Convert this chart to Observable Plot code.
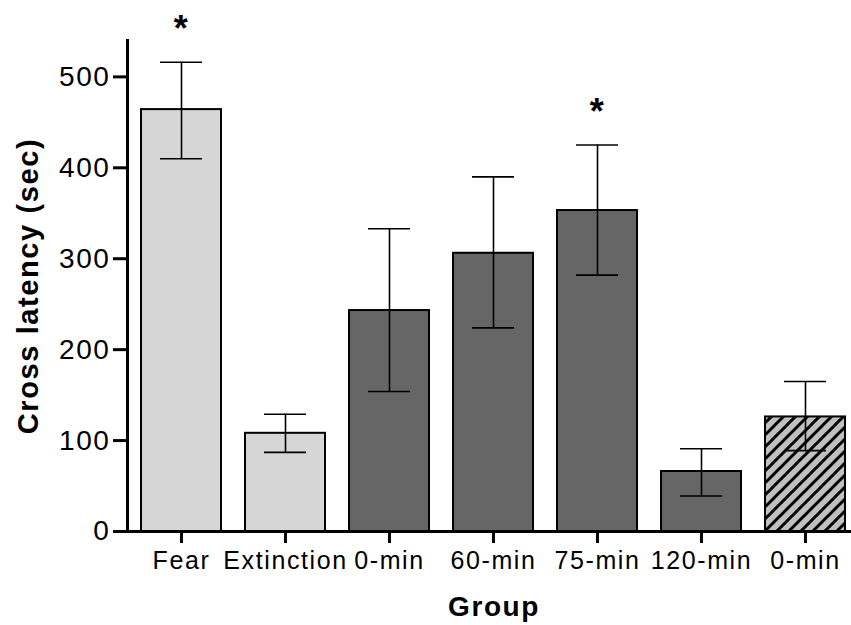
<!DOCTYPE html>
<html><head><meta charset="utf-8">
<script src="https://cdn.jsdelivr.net/npm/d3@7"></script>
<script src="https://cdn.jsdelivr.net/npm/@observablehq/plot@0.6"></script>
<style>
html,body{margin:0;padding:0;background:#fff;overflow:hidden}
#chart svg{display:block}
#chart svg text{letter-spacing:1.6px}
</style></head><body><div id="chart"></div>
<script>
// Data
const groupIds = ["Fear", "Extinction", "0-min", "60-min", "75-min", "120-min", "0-min (b)"];
const groupLabels = ["Fear", "Extinction", "0-min", "60-min", "75-min", "120-min", "0-min"];
const means = [464, 108, 243, 306, 353, 66, 126];
const errLow = [410, 87, 154, 224, 282, 39, 89];
const errHigh = [516, 129, 333, 390, 425, 91, 165];
const fillKind = ["light", "light", "dark", "dark", "dark", "dark", "hatched"];
const starGroups = ["Fear", "75-min"];
const yTicks = [0, 100, 200, 300, 400, 500];

const fillColors = {light: "#d6d6d6", dark: "#666666", hatched: "url(#hatch)"};
const labelOf = Object.fromEntries(groupIds.map((id, i) => [id, groupLabels[i]]));
const data = groupIds.map((id, i) => ({id, mean: means[i], lo: errLow[i], hi: errHigh[i], fill: fillColors[fillKind[i]]}));
const stars = data.filter(d => starGroups.includes(d.id));

const chart = Plot.plot({
  width: 851, height: 625,
  marginTop: 40, marginBottom: 94, marginLeft: 127, marginRight: -9,
  style: {fontFamily: "'Liberation Sans', Arial, sans-serif", fontSize: "24px", color: "#000", background: "#fff", overflow: "visible"},
  x: {domain: groupIds, paddingInner: 0.23, paddingOuter: 0.115, label: null},
  y: {domain: [0, 540], label: null},
  color: {type: "identity"},
  marks: [
    Plot.barY(data, {x: "id", y: "mean", fill: "fill", stroke: "#000", strokeWidth: 2}),
    Plot.ruleX(data, {x: "id", y1: "lo", y2: "hi", stroke: "#000", strokeWidth: 1.6}),
    Plot.tickY(data, {x: "id", y: "lo", insetLeft: 19, insetRight: 19, stroke: "#000", strokeWidth: 1.6}),
    Plot.tickY(data, {x: "id", y: "hi", insetLeft: 19, insetRight: 19, stroke: "#000", strokeWidth: 1.6}),
    Plot.text(stars, {x: "id", y: "hi", text: () => "*", fontSize: 36, fontWeight: "bold", dy: -33}),
    Plot.ruleY([0], {stroke: "#000", strokeWidth: 3}),
    Plot.frame({anchor: "left", stroke: "#000", strokeWidth: 3}),
    Plot.axisY({ticks: yTicks, tickSize: 14, tickPadding: 3, fontSize: 28, tickFormat: d => d, stroke: "#000", strokeWidth: 3, label: null}),
    Plot.axisX({tickSize: 12, tickPadding: 8, tickFormat: id => labelOf[id], fontSize: 25, stroke: "#000", strokeWidth: 3, label: null}),
    Plot.text(["Cross latency (sec)"], {text: d => d, frameAnchor: "left", textAnchor: "middle", rotate: -90, dx: -99, fontSize: 29, fontWeight: "bold"}),
    Plot.text(["Group"], {text: d => d, frameAnchor: "bottom", dy: 84, fontSize: 28, fontWeight: "bold"})
  ]
});

d3.select(chart).insert("defs", ":first-child").html(
  `<pattern id="hatch" patternUnits="userSpaceOnUse" width="12" height="12">
     <rect width="12" height="12" fill="#c0c0c0"/>
     <path d="M-3,3 l6,-6 M0,12 l12,-12 M9,15 l6,-6" stroke="#000" stroke-width="3"/>
   </pattern>`
);
document.getElementById("chart").appendChild(chart);
</script>
</body></html>
